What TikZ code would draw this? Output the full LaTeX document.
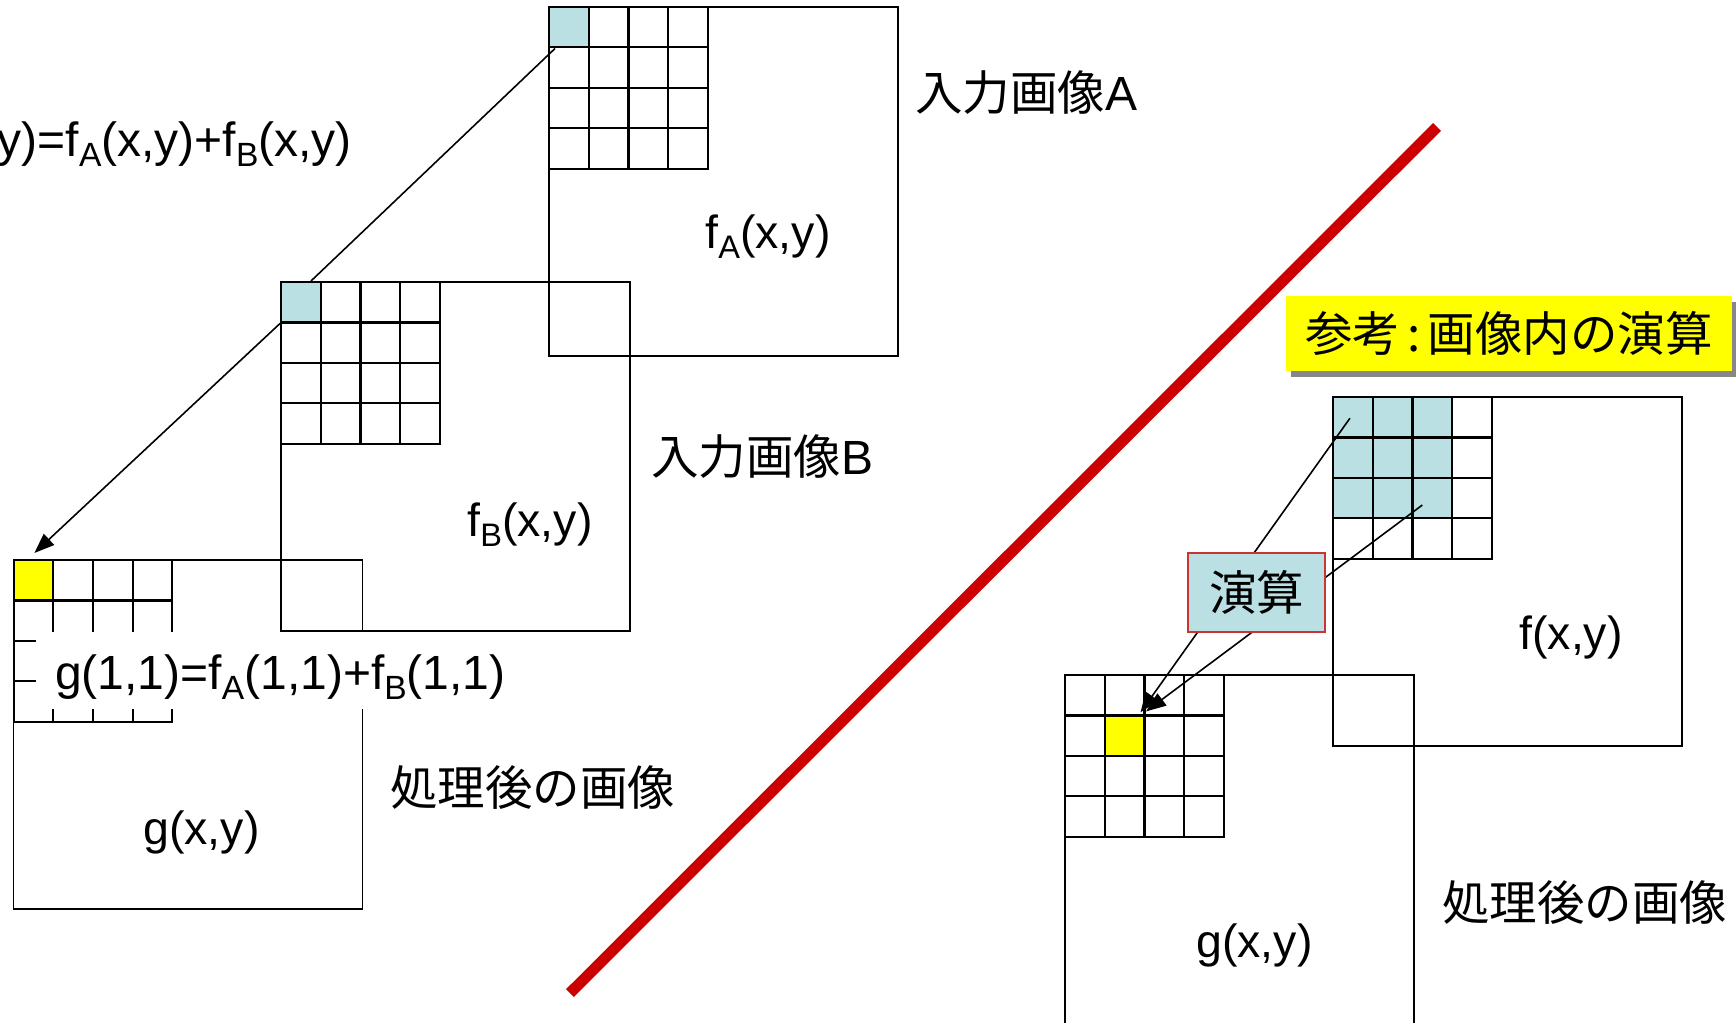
\documentclass[tikz,border=0pt]{standalone}
\usepackage{fontspec}
\setmainfont{Liberation Sans}
\newfontfamily\jp{Noto Sans CJK JP}
\usepackage{graphicx}
\usetikzlibrary{arrows.meta,shadows,calc}
\definecolor{lb}{HTML}{BBE0E3}
\definecolor{yel}{HTML}{FFFF00}
\definecolor{redline}{HTML}{CC0000}
\definecolor{opborder}{HTML}{CC3333}
\newcommand\mysub[1]{\raisebox{-0.21em}{\fontsize{0.7em}{1em}\selectfont #1}}
\newcommand\pixgrid[3]{%
  \foreach \i in {0,...,3}{\foreach \j in {0,...,3}{%
    \node[cell, c#1-\i-\j/.try] (#1-\i-\j) at ({#2+\i*39.7},{#3+\j*40.4}) {};
  }}}
\begin{document}
\begin{tikzpicture}[x=1pt,y=-1pt,
  cell/.style={draw, line width=2.1pt, minimum width=39.7pt, minimum height=40.4pt, inner sep=0pt, anchor=north west},
  imgbox/.style={draw, line width=1.6pt, minimum width=349pt, minimum height=349pt, inner sep=0pt, anchor=north west},
  txt/.style={inner sep=0pt, font=\fontsize{46.5}{50}\selectfont},
  bigtxt/.style={inner sep=0pt, font=\fontsize{48}{52}\selectfont},
  conn/.style={line width=1.6pt},
  arr/.style={conn, -{Triangle[length=20pt,width=15pt]}},
  cA-0-0/.style={fill=lb}, cB-0-0/.style={fill=lb}, cG-0-0/.style={fill=yel},
  cF-0-0/.style={fill=lb}, cF-1-0/.style={fill=lb}, cF-2-0/.style={fill=lb},
  cF-0-1/.style={fill=lb}, cF-1-1/.style={fill=lb}, cF-2-1/.style={fill=lb},
  cF-0-2/.style={fill=lb}, cF-1-2/.style={fill=lb}, cF-2-2/.style={fill=lb},
  cH-1-1/.style={fill=yel}]
\useasboundingbox (0,0) rectangle (1736,1022);
\clip (0,0) rectangle (1736,1022);
\fill[white] (0,0) rectangle (1736,1022);

% left side images
\node[imgbox] (Aimg) at (548,6) {};
\pixgrid{A}{548}{6}
\node[imgbox] (Bimg) at (280,281) {};
\pixgrid{B}{280}{281}
\node[imgbox] (Gimg) at (12.5,559) {};
\pixgrid{G}{12.5}{559}

% connectors left
\draw[conn] ($(A-0-0.south west)+(7,0)$) -- ($(B-0-0.north west)+(31,0)$);
\draw[arr] (B-0-0.south west) -- ($(G-0-0.north)+(1,-6)$);

% mask and equation
\node[fill=white, minimum width=479pt, minimum height=77pt, inner sep=0pt, anchor=north west] (gmask) at (36,632) {};
\node[bigtxt, anchor=west] (geq) at (55,677) {g(1,1)=f\mysub{A}(1,1)+f\mysub{B}(1,1)};

% labels left
\node[bigtxt, anchor=east] (formula) at (352,144) {g(x,y)=f\mysub{A}(x,y)+f\mysub{B}(x,y)};
\node[txt] (fA) at (768,237) {f\mysub{A}(x,y)};
\node[txt] (fB) at (530,525) {f\mysub{B}(x,y)};
\node[txt] (gl) at (201.5,832) {g(x,y)};
\node[txt, anchor=west] (inA) at (915,93) {{\jp\fontsize{47.5}{50}\selectfont 入力画像}{\fontsize{48}{50}\selectfont A}};
\node[txt, anchor=west] (inB) at (651,457) {{\jp\fontsize{47.5}{50}\selectfont 入力画像}{\fontsize{48}{50}\selectfont B}};
\node[txt, anchor=west] (outL) at (390,788) {{\jp\fontsize{47.5}{50}\selectfont 処理後の画像}};

% red divider
\draw[redline, line width=11pt] (570,993) -- (1437,127);

% right side
\node[fill=yel, minimum width=446pt, minimum height=75pt, inner sep=0pt,
  drop shadow={shadow xshift=5pt, shadow yshift=-6pt, fill=black!47, opacity=1}]
  (title) at (1509,333.5) {{\jp\fontsize{47.5}{50}\selectfont 参考\hspace{0.15em}:\hspace{0.15em}画像内の演算}};
\node[imgbox] (Fimg) at (1332,396) {};
\pixgrid{F}{1332}{396}
\node[imgbox] (Himg) at (1064,674) {};
\pixgrid{H}{1064}{674}

\coordinate (s1) at ($(F-0-0.center)+(-3,1)$);
\coordinate (s2) at ($(F-2-2.center)+(-10,7)$);
\coordinate (t1) at ($(H-1-1.north east)+(-5,-2)$);
\coordinate (t2) at ($(H-1-1.north east)+(0.5,-3)$);
\draw[arr] (s1) -- (t1);
\draw[arr] (s2) -- (t2);
\node[fill=lb, draw=opborder, line width=1.6pt, minimum width=137pt, minimum height=79pt, inner sep=0pt]
  (op) at (1256.5,592.5) {{\jp\fontsize{47.5}{50}\selectfont 演算}};

\node[txt] (fr) at (1571,637) {f(x,y)};
\node[txt] (gr) at (1254.5,945) {g(x,y)};
\node[txt, anchor=west] (outR) at (1442,903) {{\jp\fontsize{47.5}{50}\selectfont 処理後の画像}};
\end{tikzpicture}
\end{document}
